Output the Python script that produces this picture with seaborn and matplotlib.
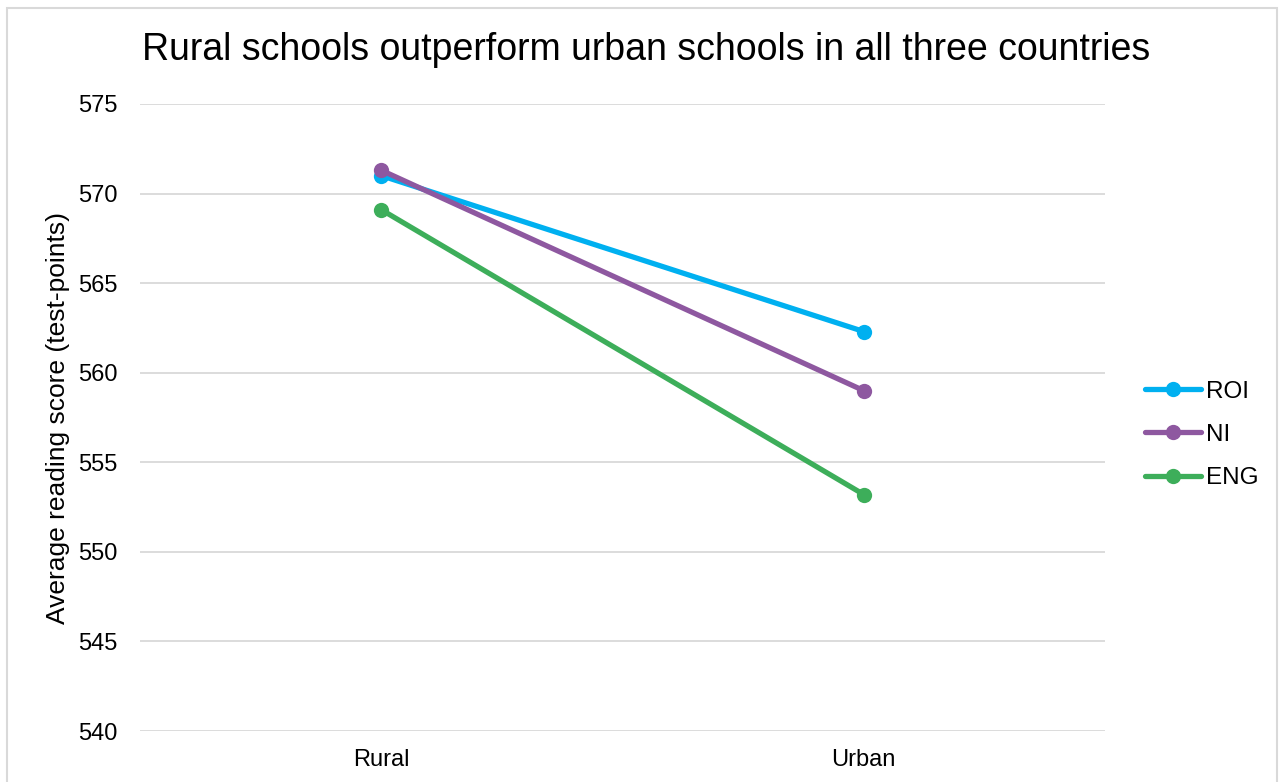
import matplotlib
matplotlib.use("Agg")
import matplotlib.pyplot as plt
import seaborn as sns
import pandas as pd
from matplotlib.patches import Rectangle
from matplotlib.lines import Line2D

areas = ["Rural", "Urban"]
countries = ["ROI", "NI", "ENG"]
roi = [571.0, 562.3]
ni = [571.3, 559.0]
eng = [569.1, 553.2]
colors = {"ROI": "#00B0F0", "NI": "#8E58A0", "ENG": "#3DAE5A"}

rows = []
for c, vals in zip(countries, [roi, ni, eng]):
    for a, v in zip(areas, vals):
        rows.append({"area": a, "score": v, "country": c})
df = pd.DataFrame(rows)
df["x"] = df["area"].map({a: i for i, a in enumerate(areas)})

sns.set_theme(style="white")
plt.rcParams["font.family"] = ["Liberation Sans", "DejaVu Sans"]
plt.rcParams["text.color"] = "#000000"

fig = plt.figure(figsize=(12.85, 7.82), dpi=100)
ax = fig.add_axes([140 / 1285, 1 - 731 / 782, 965 / 1285, 627 / 782])

sns.lineplot(data=df, x="x", y="score", hue="country", hue_order=countries,
             palette=colors, marker="o", markersize=11, markeredgewidth=0,
             linewidth=3.8, ax=ax, legend=False)

ax.set_xlim(-0.5, 1.5)
ax.set_ylim(540, 575)
ax.set_yticks(range(540, 576, 5))
ax.set_xticks(range(len(areas)))
ax.set_xticklabels(areas)
ax.tick_params(axis="both", labelsize=17, colors="#000000", length=0)
ax.tick_params(axis="y", pad=16)
ax.tick_params(axis="x", pad=13)
ax.grid(axis="y", color="#D9D9D9", linewidth=1.3)
ax.set_axisbelow(True)
for s in ax.spines.values():
    s.set_visible(False)
ax.set_xlabel("")
ax.set_ylabel("Average reading score (test-points)", fontsize=19, color="#000000", labelpad=6)

fig.text(646 / 1285, 1 - 50 / 782, "Rural schools outperform urban schools in all three countries",
         ha="center", va="center", fontsize=27, color="#000000")

handles = [Line2D([0], [0], color=colors[c], linewidth=3.8, marker="o", markersize=11,
                  markeredgewidth=0) for c in countries]
leg = fig.legend(handles, countries, loc="center left", bbox_to_anchor=(1145 / 1285, 1 - 435 / 782),
                 frameon=False, fontsize=17.5, handlelength=2.3, handletextpad=0.2,
                 labelspacing=0.88, borderpad=0, borderaxespad=0)
for t in leg.get_texts():
    t.set_color("#000000")

fig.patches.append(Rectangle((7 / 1285, -0.01), 1270 / 1285, 1 - 8 / 782 + 0.01,
                             transform=fig.transFigure, fill=False, edgecolor="#D9D9D9",
                             linewidth=1.5))

fig.savefig("out.png", dpi=100, facecolor="white")
